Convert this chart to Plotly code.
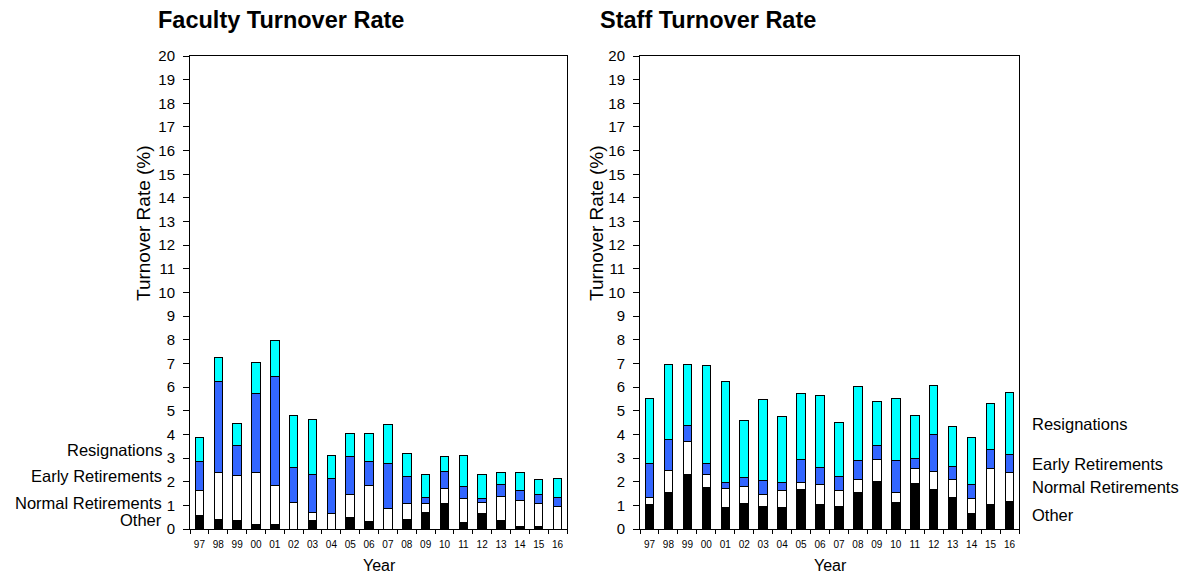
import plotly.graph_objects as go

years = ["97", "98", "99", "00", "01", "02", "03", "04", "05", "06",
         "07", "08", "09", "10", "11", "12", "13", "14", "15", "16"]

# Faculty turnover components (%)
fac_other = [0.58, 0.42, 0.35, 0.21, 0.21, 0.00, 0.35, 0.00, 0.48, 0.31,
             0.00, 0.42, 0.70, 1.07, 0.27, 0.65, 0.36, 0.10, 0.10, 0.00]
fac_normal = [1.06, 1.99, 1.91, 2.20, 1.61, 1.12, 0.34, 0.66, 0.98, 1.52,
              0.86, 0.65, 0.37, 0.64, 1.01, 0.46, 1.02, 1.12, 0.97, 0.95]
fac_early = [1.21, 3.82, 1.28, 3.34, 4.62, 1.46, 1.63, 1.49, 1.61, 1.02,
             1.93, 1.13, 0.26, 0.72, 0.52, 0.18, 0.49, 0.39, 0.39, 0.38]
fac_resign = [1.02, 1.04, 0.92, 1.30, 1.52, 2.21, 2.30, 0.97, 0.96, 1.18,
              1.62, 0.99, 0.99, 0.63, 1.32, 1.03, 0.50, 0.76, 0.63, 0.82]

# Staff turnover components (%)
stf_other = [1.02, 1.56, 2.31, 1.76, 0.92, 1.09, 0.95, 0.92, 1.67, 1.03,
             0.96, 1.56, 2.01, 1.13, 1.94, 1.67, 1.35, 0.65, 1.03, 1.18]
stf_normal = [0.33, 0.92, 1.37, 0.55, 0.81, 0.69, 0.49, 0.69, 0.31, 0.85,
              0.65, 0.54, 0.91, 0.43, 0.60, 0.77, 0.75, 0.62, 1.51, 1.20]
stf_early = [1.40, 1.32, 0.71, 0.44, 0.25, 0.39, 0.61, 0.37, 0.94, 0.73,
             0.63, 0.78, 0.59, 1.32, 0.45, 1.57, 0.55, 0.61, 0.82, 0.75]
stf_resign = [2.77, 3.15, 2.56, 4.15, 4.25, 2.43, 3.42, 2.79, 2.82, 3.03,
              2.26, 3.14, 1.87, 2.64, 1.83, 2.07, 1.68, 1.97, 1.95, 2.63]

series_names = ["Other", "Normal Retirements", "Early Retirements", "Resignations"]
colors = ["#000000", "#FFFFFF", "#3366FF", "#00FFFF"]
y_ticks = list(range(0, 21))

FONT = "Liberation Sans, Arial, sans-serif"

# Page body margin is removed in post_script, so the figure fills the window.
W, H = 1190, 575


def px(x):
    return x / W


def py(y):
    return 1 - y / H


fig = go.Figure()

fac = [fac_other, fac_normal, fac_early, fac_resign]
stf = [stf_other, stf_normal, stf_early, stf_resign]

for name, col, vals in zip(series_names, colors, fac):
    fig.add_trace(go.Bar(x=years, y=vals, name=name, marker_color=col,
                         marker_line_color="#000000", marker_line_width=1,
                         xaxis="x", yaxis="y", showlegend=False, width=0.45))
for name, col, vals in zip(series_names, colors, stf):
    fig.add_trace(go.Bar(x=years, y=vals, name=name, marker_color=col,
                         marker_line_color="#000000", marker_line_width=1,
                         xaxis="x2", yaxis="y2", showlegend=False, width=0.45))

ydom = [py(529), py(56)]

axis_common = dict(showline=True, linecolor="#000000", linewidth=1, mirror=True,
                   showgrid=False, zeroline=False, ticks="outside",
                   tickcolor="#000000", automargin=False)
x_extra = dict(type="category", tickson="boundaries", tickfont=dict(size=10),
               tickangle=0, ticklen=4, ticklabelstandoff=6)
y_extra = dict(range=[0, 20], tickvals=y_ticks, tickfont=dict(size=15),
               ticklen=6, ticklabelstandoff=5)

fig.update_layout(
    width=W, height=H,
    margin=dict(l=0, r=0, t=0, b=0),
    paper_bgcolor="white", plot_bgcolor="white",
    barmode="stack",
    font=dict(family=FONT, color="#000000"),
    xaxis=dict(domain=[px(190), px(567)], anchor="y", **x_extra, **axis_common),
    yaxis=dict(domain=ydom, anchor="x", **y_extra, **axis_common),
    xaxis2=dict(domain=[px(640), px(1019)], anchor="y2", **x_extra, **axis_common),
    yaxis2=dict(domain=ydom, anchor="x2", **y_extra, **axis_common),
)

annotations = [
    dict(text="<b>Faculty Turnover Rate</b>", x=px(156), y=py(20), xref="paper",
         yref="paper", xanchor="left", yanchor="middle", showarrow=False,
         font=dict(size=23.5, family=FONT)),
    dict(text="<b>Staff Turnover Rate</b>", x=px(598), y=py(20), xref="paper",
         yref="paper", xanchor="left", yanchor="middle", showarrow=False,
         font=dict(size=23.5, family=FONT)),
]

# Axis titles
for xc in (143, 596):
    annotations.append(dict(text="Turnover Rate (%)", x=px(xc), y=py(223),
                            xref="paper", yref="paper", xanchor="center",
                            yanchor="middle", textangle=-90, showarrow=False,
                            font=dict(size=19, family=FONT)))
for xc in (379, 830):
    annotations.append(dict(text="Year", x=px(xc), y=py(565),
                            xref="paper", yref="paper", xanchor="center",
                            yanchor="middle", showarrow=False,
                            font=dict(size=16, family=FONT)))

# Series labels beside first faculty bar / last staff bar
def mids(comp, idx):
    out, base = [], 0.0
    for c in comp:
        v = c[idx]
        out.append(base + v / 2)
        base += v
    return out

fac_mid = mids(fac, 0)
stf_mid = mids(stf, -1)
fac_mid[0] = max(fac_mid[0], 0.38)
for name, ym in zip(series_names, fac_mid):
    annotations.append(dict(text=name, x=px(164), xref="paper", y=ym, yref="y",
                            xanchor="right", yanchor="middle", showarrow=False,
                            font=dict(size=16.5, family=FONT)))
for name, ym in zip(series_names, stf_mid):
    annotations.append(dict(text=name, x=px(1030), xref="paper", y=ym, yref="y2",
                            xanchor="left", yanchor="middle", showarrow=False,
                            font=dict(size=16.5, family=FONT)))

fig.update_layout(annotations=annotations)
fig.write_html("out.html",
               config={"displayModeBar": False},
               post_script="document.body.style.margin='0px';"
                           "document.body.style.overflow='hidden';")
